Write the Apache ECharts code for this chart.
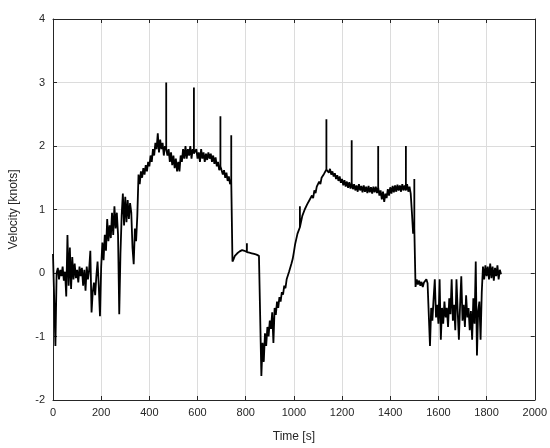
<!DOCTYPE html>
<html>
<head>
<meta charset="utf-8">
<script src="https://cdn.jsdelivr.net/npm/echarts@6/dist/echarts.min.js"></script>
<style>
html,body{margin:0;padding:0;background:#fff;}
#chart{width:550px;height:448px;}
</style>
</head>
<body>
<div id="chart"></div>
<script>
// Sampling interval of the velocity record [s]
const sampleStep = 5;

const velocityA = [ // 0 - 495 s
  0.3, 0.32, -1.15, 0.0, 0.08, -0.1, 0.05, -0.05, 0.1, -0.12,
  0.02, -0.37, 0.6, -0.2, 0.4, -0.25, 0.25, -0.1, 0.15, -0.08,
  0.05, -0.15, 0.1, -0.05, 0.08, -0.2, 0.05, -0.28, 0.1, -0.1,
  0.05, 0.35, -0.62, -0.3, -0.15, -0.35, -0.05, 0.18, -0.2, -0.68,
  0.1, 0.48, 0.2, 0.6, 0.35, 0.85, 0.5, 0.75, 0.55, 0.95,
  0.6, 1.05, 0.7, 0.95, 0.6, -0.65, 0.3, 0.9, 1.25, 0.75,
  1.2, 0.8, 1.15, 0.85, 1.1, 0.95, 0.4, 0.14, 0.7, 0.5,
  0.9, 1.55, 1.4, 1.6, 1.5, 1.65, 1.55, 1.7, 1.6, 1.75,
  1.68, 1.85, 1.75, 1.95, 1.85, 2.05, 1.95, 2.2, 1.9, 2.1,
  1.95, 2.05, 1.85, 2.0, 1.95, 1.85, 1.95, 1.75, 1.9, 1.7
];
const velocityB = [ // 500 - 995 s
  1.85, 1.65, 1.8, 1.6, 1.75, 1.6, 1.85, 1.75, 1.95, 1.8,
  2.0, 1.8, 1.95, 1.85, 2.0, 1.8, 1.95, 1.88, 1.85, 1.95,
  1.8, 1.9, 1.75, 1.95, 1.8, 1.9, 1.75, 1.88, 1.78, 1.9,
  1.8, 1.88, 1.75, 1.85, 1.72, 1.82, 1.68, 1.75, 1.62, 1.68,
  1.65, 1.55, 1.62, 1.5, 1.58, 1.45, 1.52, 1.4, 1.45, 0.18,
  0.22, 0.27, 0.26, 0.31, 0.3, 0.34, 0.32, 0.36, 0.33, 0.35,
  0.32, 0.33, 0.3, 0.32, 0.29, 0.31, 0.28, 0.3, 0.27, 0.29,
  0.26, 0.27, 0.24, -1.62, -1.1, -1.4, -0.95, -1.15, -0.85, -1.0,
  -0.75, -0.88, -0.62, -1.1, -0.55, -0.66, -0.45, -0.55, -0.38, -0.45,
  -0.3, -0.34, -0.2, -0.24, -0.1, -0.12, 0.02, 0.05, 0.15, 0.22
];
const velocityC = [ // 1000 - 1495 s
  0.33, 0.45, 0.48, 0.62, 0.6, 0.72, 0.75, 0.9, 0.88, 1.0,
  1.02, 1.08, 1.06, 1.15, 1.12, 1.22, 1.18, 1.3, 1.26, 1.36,
  1.34, 1.44, 1.4, 1.5, 1.47, 1.56, 1.54, 1.63, 1.65, 1.58,
  1.64, 1.55, 1.6, 1.52, 1.57, 1.48, 1.54, 1.45, 1.52, 1.42,
  1.48, 1.38, 1.46, 1.36, 1.44, 1.34, 1.43, 1.33, 1.42, 1.32,
  1.4, 1.3, 1.38, 1.28, 1.4, 1.3, 1.37, 1.27, 1.38, 1.28,
  1.36, 1.26, 1.37, 1.27, 1.35, 1.25, 1.36, 1.27, 1.36, 1.26,
  1.35, 1.22, 1.3, 1.16, 1.28, 1.12, 1.25, 1.18, 1.32, 1.22,
  1.35, 1.25, 1.37, 1.27, 1.38, 1.28, 1.39, 1.3, 1.38, 1.28,
  1.4, 1.3, 1.38, 1.3, 1.4, 1.28, 1.36, 1.25, 0.95, 0.62
];
const velocityD = [ // 1500 - 1860 s
  0.7, -0.22, -0.1, -0.18, -0.12, -0.2, -0.14, -0.22, -0.15, -0.18,
  -0.1, -0.16, -0.15, -1.15, -0.55, -0.75, -0.4, -0.1, -0.7, -0.5,
  -0.8, -0.1, -1.05, -0.55, -0.8, -0.45, -0.7, -0.55, -0.85, -0.4,
  -0.65, -0.1, -0.75, -0.5, -0.9, -0.1, -0.6, -1.05, -0.5, -0.05,
  -0.75, -0.5, -0.85, -0.35, -0.7, -0.55, -0.9, -0.6, -1.05, -0.4,
  -0.8, 0.18, -1.3, -0.6, -0.45, -1.05, -0.3, 0.1, -0.1, 0.12,
  -0.05, 0.1, -0.1, 0.15, -0.08, 0.1, -0.12, 0.08, -0.05, 0.12,
  -0.1, 0.05, -0.02
];

// Short spikes (one-sample excursions) [s] and their peak velocity [knots]
const spikeTimes = [470, 585, 695, 740, 805, 1025, 1135, 1240, 1350, 1465, 1500];
const spikePeaks = [3.0, 2.92, 2.47, 2.17, 0.47, 1.05, 2.42, 2.09, 2.0, 2.0, 1.48];

// Axis ticks
const xTicks = [0, 200, 400, 600, 800, 1000, 1200, 1400, 1600, 1800, 2000];
const yTicks = [-2, -1, 0, 1, 2, 3, 4];

const velocity = velocityA.concat(velocityB, velocityC, velocityD);
const seriesData = [];
velocity.forEach((v, i) => {
  const t = i * sampleStep;
  seriesData.push([t, v]);
  const k = spikeTimes.indexOf(t);
  if (k >= 0) {
    seriesData.push([t, spikePeaks[k]]);
    seriesData.push([t, v]);
  }
});

const textColor = '#262626';
const axisColor = '#262626';
const gridColor = '#dcdcdc';
const font = 'Arial, "Liberation Sans", Helvetica, sans-serif';

const chart = echarts.init(document.getElementById('chart'), null, {renderer: 'canvas'});

const baseX = {
  type: 'value',
  min: xTicks[0],
  max: xTicks[xTicks.length - 1],
  interval: xTicks[1] - xTicks[0],
  axisLine: {show: true, onZero: false, lineStyle: {color: axisColor, width: 1}},
  axisTick: {show: true, inside: true, length: 4, lineStyle: {color: axisColor}},
  splitLine: {show: false}
};
const baseY = {
  type: 'value',
  min: yTicks[0],
  max: yTicks[yTicks.length - 1],
  interval: yTicks[1] - yTicks[0],
  axisLine: {show: true, onZero: false, lineStyle: {color: axisColor, width: 1}},
  axisTick: {show: true, inside: true, length: 4, lineStyle: {color: axisColor}},
  splitLine: {show: false}
};

chart.setOption({
  animation: false,
  backgroundColor: '#ffffff',
  grid: {left: 52, right: 14, top: 19, bottom: 47, containLabel: false},
  xAxis: [
    Object.assign({}, baseX, {
      position: 'bottom',
      name: 'Time [s]',
      nameLocation: 'middle',
      nameGap: 31,
      nameTextStyle: {color: textColor, fontSize: 12, fontFamily: font},
      axisLabel: {show: true, color: textColor, fontSize: 11, fontFamily: font, margin: 7,
                  formatter: v => String(v)},
      splitLine: {show: true, lineStyle: {color: gridColor, width: 1}}
    }),
    Object.assign({}, baseX, {position: 'top', axisLabel: {show: false}})
  ],
  yAxis: [
    Object.assign({}, baseY, {
      position: 'left',
      name: 'Velocity [knots]',
      nameLocation: 'middle',
      nameGap: 33,
      nameTextStyle: {color: textColor, fontSize: 12, fontFamily: font},
      axisLabel: {show: true, color: textColor, fontSize: 11, fontFamily: font, margin: 8,
                  formatter: v => String(v)},
      splitLine: {show: true, lineStyle: {color: gridColor, width: 1}}
    }),
    Object.assign({}, baseY, {position: 'right', axisLabel: {show: false}})
  ],
  series: [{
    type: 'line',
    xAxisIndex: 0,
    yAxisIndex: 0,
    data: seriesData,
    showSymbol: false,
    symbol: 'none',
    lineStyle: {color: '#000000', width: 1.8, join: 'bevel'},
    z: 5
  }]
});
</script>
</body>
</html>
